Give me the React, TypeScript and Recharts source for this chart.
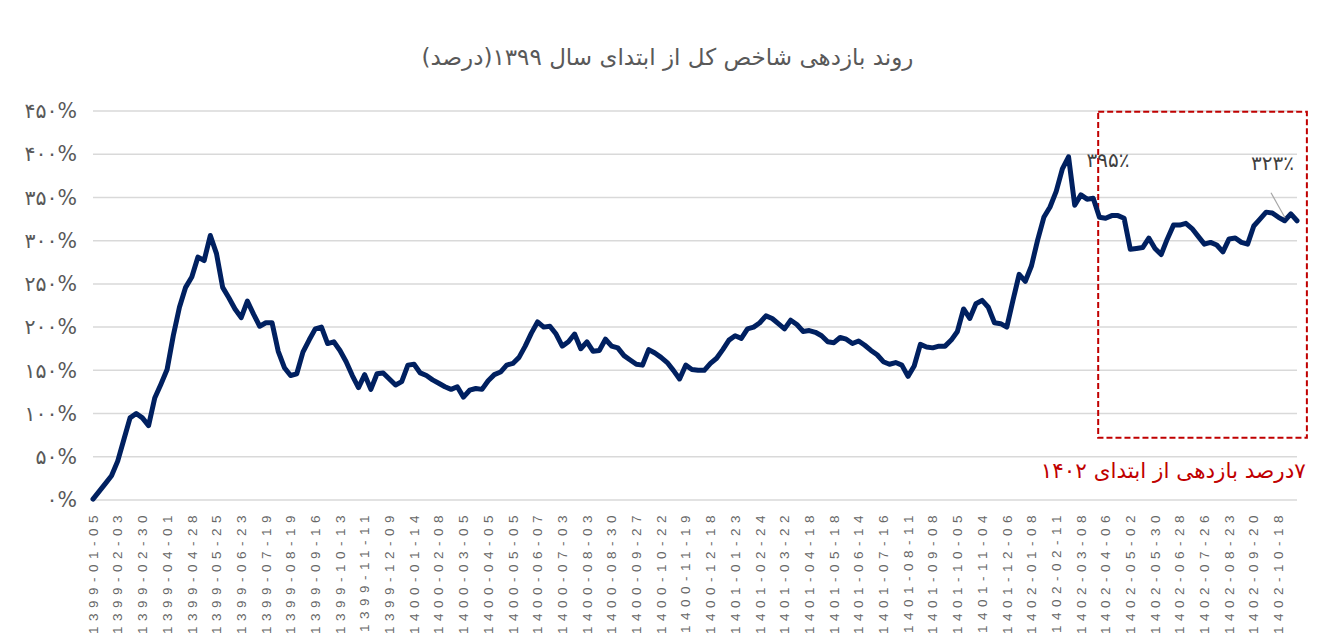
import { LineChart, Line, XAxis, YAxis, CartesianGrid, ReferenceArea, ReferenceDot } from 'recharts';

// date labels on the category axis (one every 4 points of the series)
const tickDates = [
  '1399-01-05', '1399-02-03', '1399-02-30', '1399-04-01', '1399-04-28', '1399-05-25', '1399-06-23',
  '1399-07-19', '1399-08-19', '1399-09-16', '1399-10-13', '1399-11-11', '1399-12-09', '1400-01-14',
  '1400-02-08', '1400-03-05', '1400-04-05', '1400-05-05', '1400-06-07', '1400-07-03', '1400-08-03',
  '1400-08-30', '1400-09-27', '1400-10-22', '1400-11-19', '1400-12-18', '1401-01-23', '1401-02-24',
  '1401-03-22', '1401-04-18', '1401-05-18', '1401-06-14', '1401-07-16', '1401-08-11', '1401-09-08',
  '1401-10-05', '1401-11-04', '1401-12-06', '1402-01-08', '1402-02-11', '1402-03-08', '1402-04-06',
  '1402-05-02', '1402-05-30', '1402-06-28', '1402-07-26', '1402-08-23', '1402-09-20', '1402-10-18',
];

// cumulative return of the index since start of 1399 (%)
const indexReturn = [
  1, 10, 19, 28, 45, 70, 95, 100, 95, 86, 118, 134, 151, 190, 223, 246, 258, 281, 277, 306,
  285, 246, 234, 221, 211, 230, 215, 201, 205, 205, 172, 153, 144, 146, 171, 185, 198, 200, 181, 183,
  173, 160, 144, 130, 145, 128, 146, 147, 140, 133, 137, 156, 157, 147, 144, 139, 135, 131, 128, 131,
  119, 127, 129, 128, 138, 145, 148, 156, 158, 165, 178, 193, 206, 200, 201, 192, 178, 183, 192, 175,
  183, 172, 173, 186, 178, 176, 167, 162, 157, 156, 174, 170, 165, 159, 150, 140, 156, 151, 150, 150,
  158, 164, 174, 185, 190, 187, 198, 200, 205, 213, 210, 204, 198, 208, 203, 195, 196, 194, 190, 183,
  182, 188, 186, 181, 184, 179, 173, 168, 160, 157, 159, 156, 143, 155, 180, 177, 176, 178, 178, 185,
  195, 221, 210, 227, 231, 223, 205, 204, 200, 231, 261, 253, 271, 301, 327, 339, 357, 383, 397, 341,
  353, 348, 349, 327, 326, 329, 329, 326, 290, 291, 292, 303, 291, 284, 302, 318, 318, 320, 314, 305,
  296, 298, 295, 287, 302, 303, 298, 296, 317, 325, 333, 332, 327, 323, 331, 323,
];

const yTicks = [0, 50, 100, 150, 200, 250, 300, 350, 400, 450];

const title = 'روند بازدهی شاخص کل از ابتدای سال ۱۳۹۹(درصد)';
const peakText = '۳۹۵٪';
const lastText = '۳۲۳٪';
const noteText = '۷درصد بازدهی از ابتدای ۱۴۰۲';

// highlighted 1402 window, in data units
const box = { x1: 162.8, x2: 196.6, y1: 72, y2: 449 };

const STEP = 4;
const data = indexReturn.map((v, i) => ({ i, v }));
const lastIdx = indexReturn.length - 1;
const peakIdx = indexReturn.indexOf(Math.max(...indexReturn));

const toFa = (s: string | number) => String(s).replace(/\d/g, d => '۰۱۲۳۴۵۶۷۸۹'[+d]);

const faFont = '"DejaVu Sans", sans-serif';
const gray = '#595959';

const YTick = ({ x, y, payload }: any) => (
  <text x={x - 8} y={y} dy="0.35em" textAnchor="end" fontSize={20.5} fill={gray} fontFamily={faFont}>
    {toFa(payload.value)}%
  </text>
);

const XTick = ({ x, y, payload }: any) => (
  <text
    x={x} y={y} dx={-2} dy="0.35em" textAnchor="end"
    transform={`rotate(-90 ${x} ${y})`}
    fontSize={13.5} fill="#666" fontFamily='"Liberation Sans", Arial, sans-serif'
    style={{ letterSpacing: 5.5 }}
  >
    {tickDates[Math.round(payload.value / STEP)]}
  </text>
);

export default function App() {
  return (
    <div style={{ position: 'relative', width: 1305, height: 660, outline: '1px solid #d9d9d9', background: '#fff' }}>
      <div style={{
        position: 'absolute', top: 36, left: 7, width: '100%', textAlign: 'center', direction: 'rtl',
        fontSize: 23, lineHeight: '26px', color: gray, fontFamily: faFont,
      }}>
        {title}
      </div>
      <LineChart width={1305} height={660} data={data} margin={{ top: 103, right: 16, bottom: 18, left: 0 }}>
        <CartesianGrid vertical={false} stroke="#d9d9d9" strokeWidth={1.5} />
        <XAxis
          type="number" dataKey="i" domain={[0, lastIdx]} ticks={tickDates.map((_, k) => k * STEP)}
          interval={0} height={150} axisLine={false} tickLine={false} tick={<XTick />}
        />
        <YAxis
          domain={[0, 450]} ticks={yTicks} width={85} axisLine={false} tickLine={false} tick={<YTick />}
        />
        <Line
          type="linear" dataKey="v" stroke="#002060" strokeWidth={5} dot={false}
          strokeLinejoin="round" strokeLinecap="round" isAnimationActive={false}
        />
        <ReferenceArea
          x1={box.x1} x2={box.x2} y1={box.y1} y2={box.y2} ifOverflow="visible"
          shape={(p: any) => (
            <g>
              <rect x={p.x} y={p.y} width={p.width} height={p.height} fill="none" stroke="#c00000" strokeWidth={2} strokeDasharray="6 3" />
              <text x={p.x + p.width - 1} y={p.y + p.height + 40} direction="rtl" textAnchor="start" fontSize={21.5} fill="#c00000" fontFamily={faFont}>
                {noteText}
              </text>
            </g>
          )}
        />
        <ReferenceDot
          x={peakIdx} y={indexReturn[peakIdx]} r={0} ifOverflow="visible"
          shape={(p: any) => (
            <text x={p.cx + 18} y={p.cy + 10} fontSize={20} fill="#404040" fontFamily={faFont}>{peakText}</text>
          )}
        />
        <ReferenceDot
          x={lastIdx} y={indexReturn[lastIdx]} r={0} ifOverflow="visible"
          shape={(p: any) => (
            <g>
              <line x1={p.cx - 26} y1={p.cy - 28} x2={p.cx - 12} y2={p.cy - 3} stroke="#a6a6a6" strokeWidth={1.2} />
              <text x={p.cx - 46} y={p.cy - 51} fontSize={20} fill="#404040" fontFamily={faFont}>{lastText}</text>
            </g>
          )}
        />
      </LineChart>
    </div>
  );
}
